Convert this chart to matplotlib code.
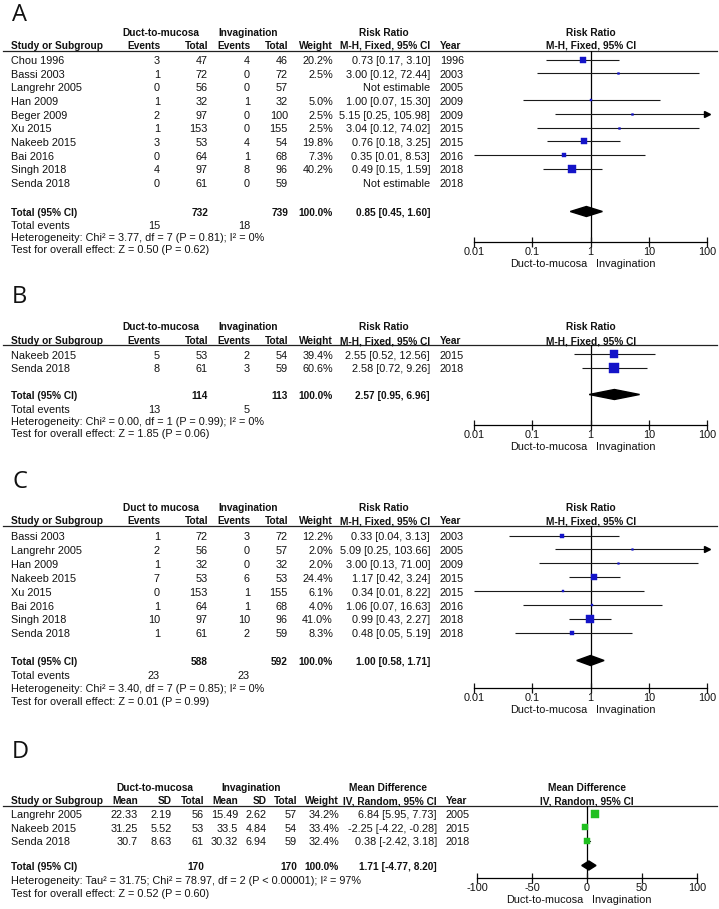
import matplotlib
matplotlib.use('Agg')
import matplotlib.pyplot as plt
from matplotlib.ticker import NullLocator
import numpy as np

plt.rcParams['font.family'] = ['Liberation Sans', 'DejaVu Sans']
plt.rcParams['axes.unicode_minus'] = False

# ---------------- data ----------------
# Panel A
A_study = ["Chou 1996", "Bassi 2003", "Langrehr 2005", "Han 2009", "Beger 2009",
           "Xu 2015", "Nakeeb 2015", "Bai 2016", "Singh 2018", "Senda 2018"]
A_ev_d = [3, 1, 0, 1, 2, 1, 3, 0, 4, 0]
A_tot_d = [47, 72, 56, 32, 97, 153, 53, 64, 97, 61]
A_ev_i = [4, 0, 0, 1, 0, 0, 4, 1, 8, 0]
A_tot_i = [46, 72, 57, 32, 100, 155, 54, 68, 96, 59]
A_weight = [20.2, 2.5, None, 5.0, 2.5, 2.5, 19.8, 7.3, 40.2, None]
A_rr = [0.73, 3.00, None, 1.00, 5.15, 3.04, 0.76, 0.35, 0.49, None]
A_lo = [0.17, 0.12, None, 0.07, 0.25, 0.12, 0.18, 0.01, 0.15, None]
A_hi = [3.10, 72.44, None, 15.30, 105.98, 74.02, 3.25, 8.53, 1.59, None]
A_year = [1996, 2003, 2005, 2009, 2009, 2015, 2015, 2016, 2018, 2018]
A_totals = [732, 739]
A_events = [15, 18]
A_pooled = [0.85, 0.45, 1.60]
A_het = "Heterogeneity: Chi² = 3.77, df = 7 (P = 0.81); I² = 0%"
A_test = "Test for overall effect: Z = 0.50 (P = 0.62)"

# Panel B
B_study = ["Nakeeb 2015", "Senda 2018"]
B_ev_d = [5, 8]
B_tot_d = [53, 61]
B_ev_i = [2, 3]
B_tot_i = [54, 59]
B_weight = [39.4, 60.6]
B_rr = [2.55, 2.58]
B_lo = [0.52, 0.72]
B_hi = [12.56, 9.26]
B_year = [2015, 2018]
B_totals = [114, 113]
B_events = [13, 5]
B_pooled = [2.57, 0.95, 6.96]
B_het = "Heterogeneity: Chi² = 0.00, df = 1 (P = 0.99); I² = 0%"
B_test = "Test for overall effect: Z = 1.85 (P = 0.06)"

# Panel C
C_study = ["Bassi 2003", "Langrehr 2005", "Han 2009", "Nakeeb 2015", "Xu 2015",
           "Bai 2016", "Singh 2018", "Senda 2018"]
C_ev_d = [1, 2, 1, 7, 0, 1, 10, 1]
C_tot_d = [72, 56, 32, 53, 153, 64, 97, 61]
C_ev_i = [3, 0, 0, 6, 1, 1, 10, 2]
C_tot_i = [72, 57, 32, 53, 155, 68, 96, 59]
C_weight = [12.2, 2.0, 2.0, 24.4, 6.1, 4.0, 41.0, 8.3]
C_rr = [0.33, 5.09, 3.00, 1.17, 0.34, 1.06, 0.99, 0.48]
C_lo = [0.04, 0.25, 0.13, 0.42, 0.01, 0.07, 0.43, 0.05]
C_hi = [3.13, 103.66, 71.00, 3.24, 8.22, 16.63, 2.27, 5.19]
C_year = [2003, 2005, 2009, 2015, 2015, 2016, 2018, 2018]
C_totals = [588, 592]
C_events = [23, 23]
C_pooled = [1.00, 0.58, 1.71]
C_het = "Heterogeneity: Chi² = 3.40, df = 7 (P = 0.85); I² = 0%"
C_test = "Test for overall effect: Z = 0.01 (P = 0.99)"

# Panel D
D_study = ["Langrehr 2005", "Nakeeb 2015", "Senda 2018"]
D_mean_d = ["22.33", "31.25", "30.7"]
D_sd_d = ["2.19", "5.52", "8.63"]
D_n_d = [56, 53, 61]
D_mean_i = ["15.49", "33.5", "30.32"]
D_sd_i = ["2.62", "4.84", "6.94"]
D_n_i = [57, 54, 59]
D_weight = [34.2, 33.4, 32.4]
D_md = [6.84, -2.25, 0.38]
D_lo = [5.95, -4.22, -2.42]
D_hi = [7.73, -0.28, 3.18]
D_year = [2005, 2015, 2018]
D_totals = [170, 170]
D_pooled = [1.71, -4.77, 8.20]
D_het = "Heterogeneity: Tau² = 31.75; Chi² = 78.97, df = 2 (P < 0.00001); I² = 97%"
D_test = "Test for overall effect: Z = 0.52 (P = 0.60)"

RR_ticks = [0.01, 0.1, 1, 10, 100]
RR_ticklabels = ["0.01", "0.1", "1", "10", "100"]
MD_ticks = [-100, -50, 0, 50, 100]
MD_ticklabels = ["-100", "-50", "0", "50", "100"]

# ---------------- figure ----------------
W, H = 719, 909
fig = plt.figure(figsize=(W / 100, H / 100), dpi=100)
cv = fig.add_axes([0, 0, 1, 1])
cv.set_xlim(0, W)
cv.set_ylim(H, 0)
cv.axis('off')

FS = 7.8
FSB = 7.3
TXT = '#111111'
BLUE = '#1414c8'
GREEN = '#20c020'


def t(x, y, s, ha='left', bold=False, size=None, family=None):
    kw = {}
    if family:
        kw['family'] = family
    if size is None:
        size = FSB if bold else FS
    cv.text(x, y, s, ha=ha, va='center', fontsize=size,
            fontweight='bold' if bold else 'normal', color=TXT, **kw)


def ci_str(e, l, h):
    return f"{e:.2f} [{l:.2f}, {h:.2f}]"


def forest_axes(x0, x1, ytop, ybot, log, lim, ticks, labels, ref):
    ax = fig.add_axes([x0 / W, 1 - ybot / H, (x1 - x0) / W, (ybot - ytop) / H])
    if log:
        ax.set_xscale('log')
    ax.set_xlim(*lim)
    ax.set_ylim(ybot, ytop)
    for s in ['top', 'left', 'right']:
        ax.spines[s].set_visible(False)
    ax.spines['bottom'].set_linewidth(0.9)
    ax.set_yticks([])
    ax.patch.set_alpha(0)
    ax.set_xticks(ticks)
    ax.set_xticklabels(labels)
    ax.xaxis.set_minor_locator(NullLocator())
    ax.tick_params(axis='x', direction='inout', length=7, width=0.9, pad=0,
                   labelsize=FS, colors=TXT)
    ax.axvline(ref, color='black', lw=0.9, zorder=1)
    return ax


def draw_binary(letter, L, grp1, study, ev_d, tot_d, ev_i, tot_i, weight, rr, lo, hi,
                year, totals, events, pooled, het, test):
    t(12, L['label'], letter, size=17, family=['Open Sans', 'DejaVu Sans'])
    # headers
    t(161, L['h1'], grp1, ha='center', bold=True)
    t(248, L['h1'], "Invagination", ha='center', bold=True)
    t(384, L['h1'], "Risk Ratio", ha='center', bold=True)
    t(591, L['h1'], "Risk Ratio", ha='center', bold=True)
    t(11, L['h2'], "Study or Subgroup", bold=True)
    t(160, L['h2'], "Events", ha='right', bold=True)
    t(208, L['h2'], "Total", ha='right', bold=True)
    t(250, L['h2'], "Events", ha='right', bold=True)
    t(288, L['h2'], "Total", ha='right', bold=True)
    t(333, L['h2'], "Weight", ha='right', bold=True)
    t(430, L['h2'], "M-H, Fixed, 95% CI", ha='right', bold=True)
    t(440, L['h2'], "Year", bold=True)
    t(591, L['h2'], "M-H, Fixed, 95% CI", ha='center', bold=True)
    cv.plot([3, 717], [L['rule'], L['rule']], color='#222222', lw=0.9)

    ax = forest_axes(474, 707, L['rule'], L['axis'], True, (0.01, 100),
                     RR_ticks, RR_ticklabels, 1)
    xmin, xmax = 0.01, 100
    for i, name in enumerate(study):
        y = L['row0'] + i * L['dy']
        t(11, y, name)
        t(160, y, str(ev_d[i]), ha='right')
        t(208, y, str(tot_d[i]), ha='right')
        t(250, y, str(ev_i[i]), ha='right')
        t(288, y, str(tot_i[i]), ha='right')
        t(440, y, str(year[i]))
        if rr[i] is None:
            t(430, y, "Not estimable", ha='right')
            continue
        t(333, y, f"{weight[i]:.1f}%", ha='right')
        t(430, y, ci_str(rr[i], lo[i], hi[i]), ha='right')
        ym = y - 1.5
        l, h = max(lo[i], xmin), min(hi[i], xmax)
        ax.plot([l, h], [ym, ym], color='#1a1a1a', lw=0.8, zorder=2,
                solid_capstyle='butt')
        if hi[i] > xmax:
            ax.plot([xmax], [ym], marker='>', ms=4, color='black', clip_on=False, zorder=3)
        side = 1.2 * np.sqrt(weight[i])
        ax.plot([rr[i]], [ym], marker='s', ms=side * 0.72, color=BLUE, mec=BLUE,
                mew=0.3, zorder=4)
    # totals
    y = L['tot']
    t(11, y, "Total (95% CI)", bold=True)
    t(208, y, str(totals[0]), ha='right', bold=True)
    t(288, y, str(totals[1]), ha='right', bold=True)
    t(333, y, "100.0%", ha='right', bold=True)
    t(430, y, ci_str(*pooled), ha='right', bold=True)
    e, l, h = pooled
    ym = y - 1.5
    ax.fill([l, e, h, e], [ym, ym - 5, ym, ym + 5], color='black', zorder=5)
    # footer
    f = L['foot']
    t(11, f, "Total events")
    t(160, f, str(events[0]), ha='right')
    t(250, f, str(events[1]), ha='right')
    t(11, f + L['fdy'], het)
    t(11, f + 2 * L['fdy'], test)
    t(587, L['axis'] + 22, "Duct-to-mucosa", ha='right')
    t(596, L['axis'] + 22, "Invagination", ha='left')


LA = dict(label=15, h1=33, h2=46, rule=51, row0=61, dy=13.65, tot=213, foot=226, fdy=11.8, axis=242)
LB = dict(label=297, h1=327, h2=341, rule=345, row0=356, dy=13.5, tot=396, foot=410, fdy=12.0, axis=425)
LC = dict(label=482, h1=508, h2=521, rule=526, row0=537, dy=13.9, tot=662, foot=676, fdy=13.0, axis=688)
LD = dict(label=752, h1=788, h2=801, rule=806, row0=815, dy=13.5, tot=867, foot=881, fdy=13.0, axis=878)

draw_binary('A', LA, "Duct-to-mucosa", A_study, A_ev_d, A_tot_d, A_ev_i, A_tot_i, A_weight,
            A_rr, A_lo, A_hi, A_year, A_totals, A_events, A_pooled, A_het, A_test)
draw_binary('B', LB, "Duct-to-mucosa", B_study, B_ev_d, B_tot_d, B_ev_i, B_tot_i, B_weight,
            B_rr, B_lo, B_hi, B_year, B_totals, B_events, B_pooled, B_het, B_test)
draw_binary('C', LC, "Duct to mucosa", C_study, C_ev_d, C_tot_d, C_ev_i, C_tot_i, C_weight,
            C_rr, C_lo, C_hi, C_year, C_totals, C_events, C_pooled, C_het, C_test)

# ---------------- Panel D ----------------
L = LD
t(12, L['label'], 'D', size=17, family=['Open Sans', 'DejaVu Sans'])
t(155, L['h1'], "Duct-to-mucosa", ha='center', bold=True)
t(251, L['h1'], "Invagination", ha='center', bold=True)
t(388, L['h1'], "Mean Difference", ha='center', bold=True)
t(587, L['h1'], "Mean Difference", ha='center', bold=True)
t(11, L['h2'], "Study or Subgroup", bold=True)
for x, s in [(138, "Mean"), (172, "SD"), (204, "Total"), (238, "Mean"), (267, "SD"),
             (297, "Total"), (339, "Weight"), (437, "IV, Random, 95% CI")]:
    t(x, L['h2'], s, ha='right', bold=True)
t(446, L['h2'], "Year", bold=True)
t(587, L['h2'], "IV, Random, 95% CI", ha='center', bold=True)
cv.plot([3, 717], [L['rule'], L['rule']], color='#222222', lw=0.9)

axd = forest_axes(477, 697, L['rule'], L['axis'], False, (-100, 100),
                  MD_ticks, MD_ticklabels, 0)
for i, name in enumerate(D_study):
    y = L['row0'] + i * L['dy']
    t(11, y, name)
    t(138, y, D_mean_d[i], ha='right')
    t(172, y, D_sd_d[i], ha='right')
    t(204, y, str(D_n_d[i]), ha='right')
    t(238, y, D_mean_i[i], ha='right')
    t(267, y, D_sd_i[i], ha='right')
    t(297, y, str(D_n_i[i]), ha='right')
    t(339, y, f"{D_weight[i]:.1f}%", ha='right')
    t(437, y, ci_str(D_md[i], D_lo[i], D_hi[i]), ha='right')
    t(446, y, str(D_year[i]))
    ym = y - 1.5
    axd.plot([D_lo[i], D_hi[i]], [ym, ym], color='#1a1a1a', lw=0.8, zorder=2)
    side = 1.2 * np.sqrt(D_weight[i])
    axd.plot([D_md[i]], [ym], marker='s', ms=side * 0.72, color=GREEN, mec=GREEN,
             mew=0.3, zorder=4)
y = L['tot']
t(11, y, "Total (95% CI)", bold=True)
t(204, y, str(D_totals[0]), ha='right', bold=True)
t(297, y, str(D_totals[1]), ha='right', bold=True)
t(339, y, "100.0%", ha='right', bold=True)
t(437, y, ci_str(*D_pooled), ha='right', bold=True)
e, l, h = D_pooled
ym = y - 1.5
axd.fill([l, e, h, e], [ym, ym - 4.5, ym, ym + 4.5], color='black', zorder=5)
t(11, L['foot'], D_het)
t(11, L['foot'] + L['fdy'], D_test)
t(583, L['axis'] + 22, "Duct-to-mucosa", ha='right')
t(592, L['axis'] + 22, "Invagination", ha='left')

fig.savefig('out.png', dpi=100)
